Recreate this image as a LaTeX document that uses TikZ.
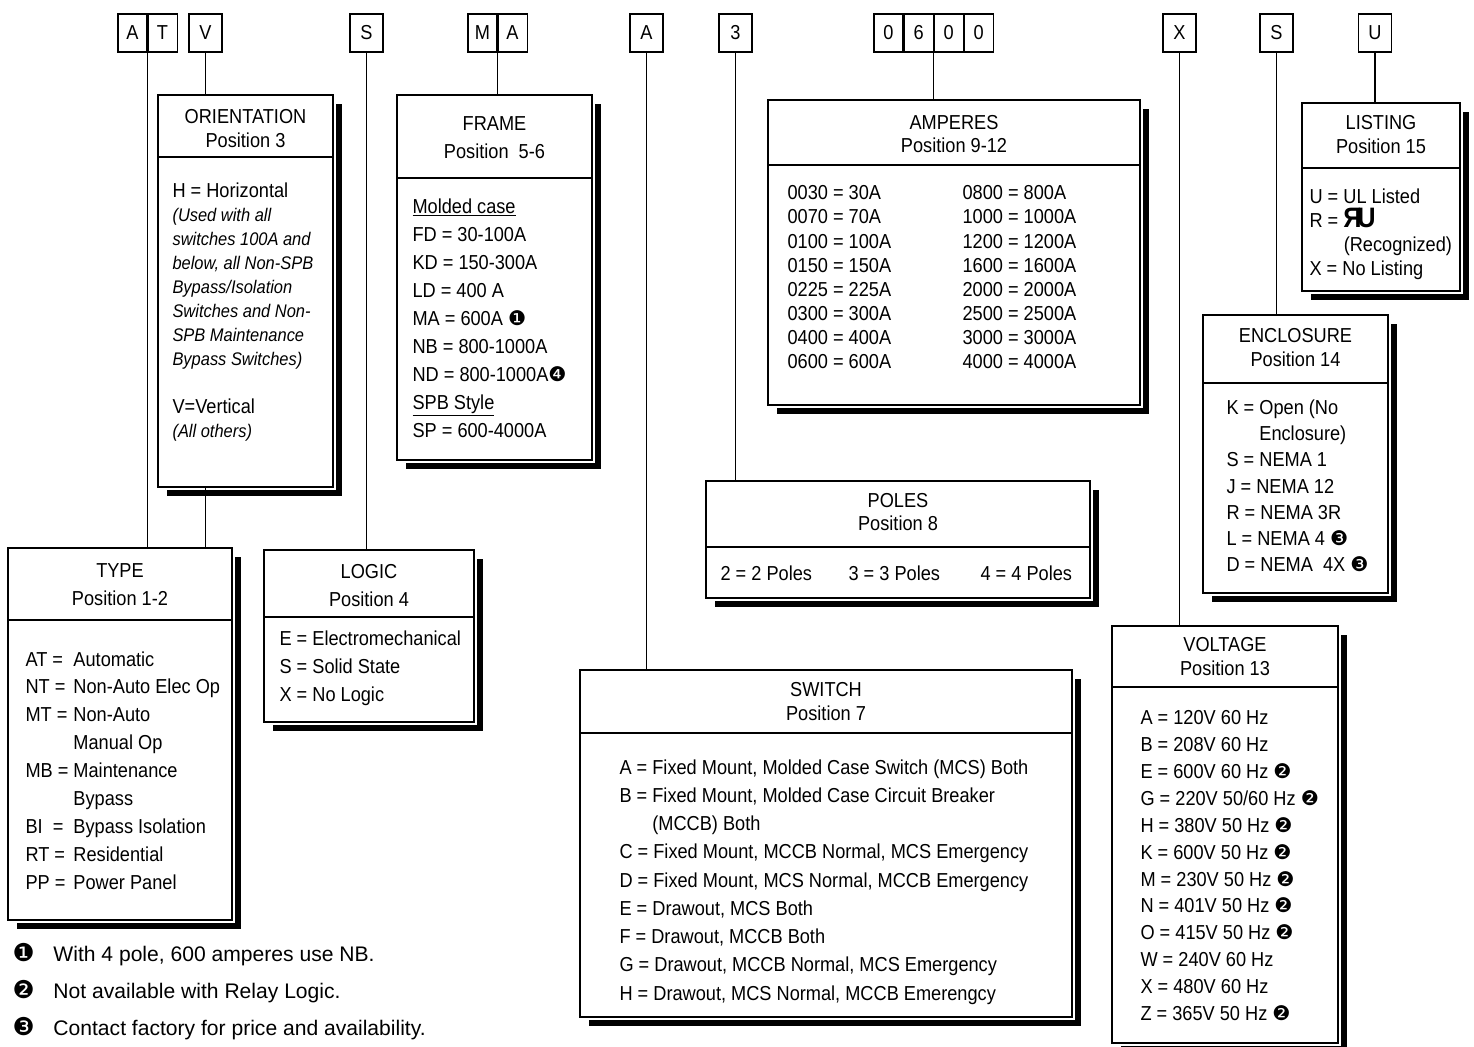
\documentclass[tikz,border=0pt]{standalone}
\usepackage{fontspec}
\setmainfont{Liberation Sans}[FakeStretch=0.9]
\newfontfamily\dingfont{DejaVu Sans}
\newfontfamily\notefont{Liberation Sans}
\usepackage{graphicx}
\usetikzlibrary{positioning,fit}

\newcommand{\dg}[1]{{\dingfont #1}}
\newcommand{\bigdg}[1]{{\dingfont\fontsize{14}{14}\selectfont #1}}
\newcommand{\remark}[1]{{\fontsize{10.4}{13.66}\selectfont\itshape #1}}
\newcommand{\ulmark}{\smash{\bfseries\fontsize{16}{16}\selectfont\reflectbox{R}\kern-2.5pt U}}

\begin{document}
\begin{tikzpicture}[
       x=0.02cm, y=-0.02cm,
       line width=0.6pt,
       codebox/.style={
         draw,
         inner sep=0pt,
         minimum width=0.66cm,
         minimum height=0.76cm,
         font=\fontsize{11.5}{13}\selectfont
       },
       digitbox/.style={codebox, minimum width=0.58cm},
       panelbox/.style={draw, inner sep=0pt},
       headtext/.style={align=center, inner sep=0pt, font=\fontsize{11.5}{#1}\selectfont},
       headtext/.default=13.66pt,
       bodytext/.style={anchor=north west, align=left, inner sep=0pt, font=\fontsize{11.5}{#1}\selectfont},
       bodytext/.default=13.66pt,
       notetext/.style={anchor=base west, inner sep=0pt, font=\notefont\fontsize{12}{14}\selectfont},
       ledge/.style={line width=3.4pt}
     ]

       \useasboundingbox (0,0) rectangle (1474,1047);

       % catalogue number
       \node (lA) at (132.5,33) [digitbox] {A};
       \node (lT) [digitbox, right=0pt of lA] {T};
       \node (lV) at (205.5,33) [codebox] {V};
       \node (lS) at (366.5,33) [codebox] {S};
       \node (lM) at (482.5,33) [digitbox] {M};
       \node (lMA) [digitbox, right=0pt of lM] {A};
       \node (lSw) at (646.5,33) [codebox] {A};
       \node (lP) at (735.5,33) [codebox] {3};
       \node (lA1) at (888.5,33) [digitbox] {0};
       \node (lA2) [digitbox, right=0pt of lA1] {6};
       \node (lA3) [digitbox, right=0pt of lA2] {0};
       \node (lA4) [digitbox, right=0pt of lA3] {0};
       \node (lX) at (1179.5,33) [codebox] {X};
       \node (lE) at (1276.5,33) [codebox] {S};
       \node (lU) at (1375,33) [codebox] {U};

       % option boxes
       \node (orient) [panelbox, fit={(158,95) (333,487)}] {};
       \node (frame) [panelbox, fit={(397,95) (592,460)}] {};
       \node (amp) [panelbox, fit={(768,100) (1140,405)}] {};
       \node (listing) [panelbox, fit={(1302,103) (1460,291)}] {};
       \node (encl) [panelbox, fit={(1203,315) (1388,593)}] {};
       \node (poles) [panelbox, fit={(706,481) (1090,598)}] {};
       \node (type) [panelbox, fit={(8,548) (232,920)}] {};
       \node (logic) [panelbox, fit={(264,550) (474,722)}] {};
       \node (switch) [panelbox, fit={(580,670) (1072,1017)}] {};
       \node (volt) [panelbox, fit={(1112,626) (1338,1043)}] {};

       \foreach \b/\d in {orient/157, frame/178, amp/165, listing/168, encl/383,
                          poles/547, type/620, logic/617, switch/733, volt/687}{
         \draw (\b.west |- 0,\d) -- (\b.east |- 0,\d);
         \draw[ledge] ([shift={(5,10)}]\b.north east) |- ([shift={(10,5)}]\b.south west);
       }

       \draw (lA.south east) -- (lA.south east |- type.north);
       \draw (lV.south) -- (lV.south |- orient.north);
       \draw (orient.south -| lV) -- (type.north -| lV);
       \draw (lS.south) -- (lS.south |- logic.north);
       \draw (lM.south east) -- (lM.south east |- frame.north);
       \draw (lSw.south) -- (lSw.south |- switch.north);
       \draw (lP.south) -- (lP.south |- poles.north);
       \draw (lA2.south east) -- (lA2.south east |- amp.north);
       \draw (lX.south) -- (lX.south |- volt.north);
       \draw (lE.south) -- (lE.south |- encl.north);
       \draw (lU.south) -- (lU.south |- listing.north);

       % headings
       \node (orientH) [headtext] at (orient.north |- 0,129) {ORIENTATION\\Position 3};
       \node (frameH) [headtext=15.93pt] at (frame.north |- 0,138) {FRAME\\Position\ \ 5-6};
       \node (ampH) [headtext=13.1pt] at (amp.north |- 0,134.5) {AMPERES\\Position 9-12};
       \node (listingH) [headtext] at (listing.north |- 0,135) {LISTING\\Position 15};
       \node (enclH) [headtext] at (encl.north |- 0,348) {ENCLOSURE\\Position 14};
       \node (polesH) [headtext=13.1pt] at (poles.north |- 0,512.5) {POLES\\Position 8};
       \node (typeH) [headtext=15.93pt] at (type.north |- 0,585) {TYPE\\Position 1-2};
       \node (logicH) [headtext=15.93pt] at (logic.north |- 0,586) {LOGIC\\Position 4};
       \node (switchH) [headtext] at (switch.north |- 0,702) {SWITCH\\Position 7};
       \node (voltH) [headtext] at (volt.north |- 0,657) {VOLTAGE\\Position 13};

       % entries
       \node (orientB) [bodytext=13.66pt] at (172,182) {H = Horizontal\\
         \remark{(Used with all}\\ \remark{switches 100A and}\\ \remark{below, all Non-SPB}\\
         \remark{Bypass/Isolation}\\ \remark{Switches and Non-}\\ \remark{SPB Maintenance}\\
         \remark{Bypass Switches)}\\[13.66pt] V=Vertical\\ \remark{(All others)}};
       \node (frameB) [bodytext=15.93pt] at (412,198) {\underline{Molded case}\\
         FD = 30-100A\\ KD = 150-300A\\ LD = 400 A\\ MA = 600A \dg{❶}\\
         NB = 800-1000A\\ ND = 800-1000A\dg{❹}\\ \underline{SPB Style}\\ SP = 600-4000A};
       \node (ampL) [bodytext=13.77pt] at (787,185) {0030 = 30A\\ 0070 = 70A\\ 0100 = 100A\\
         0150 = 150A\\ 0225 = 225A\\ 0300 = 300A\\ 0400 = 400A\\ 0600 = 600A};
       \node (ampR) [bodytext=13.77pt] at (962,185) {0800 = 800A\\ 1000 = 1000A\\ 1200 = 1200A\\
         1600 = 1600A\\ 2000 = 2000A\\ 2500 = 2500A\\ 3000 = 3000A\\ 4000 = 4000A};
       \node (listingB) [bodytext=13.66pt] at (1309,188) {U = UL Listed\\ R = \ulmark\\
         \hspace{19.5pt}(Recognized)\\ X = No Listing};
       \node (enclB) [bodytext=14.97pt] at (1226,399) {K = Open (No\\ \hphantom{K = }Enclosure)\\
         S = NEMA 1\\ J = NEMA 12\\ R = NEMA 3R\\ L = NEMA 4 \dg{❸}\\ D = NEMA~~4X \dg{❸}};
       \node (poles2) [bodytext] at (720,565) {2 = 2 Poles};
       \node (poles3) [bodytext] at (848,565) {3 = 3 Poles};
       \node (poles4) [bodytext] at (980,565) {4 = 4 Poles};
       \node (typeB) [bodytext=15.93pt, anchor=base west] at (25,666) {\begin{tabular}[t]{@{}p{27.3pt}@{}l@{}}
         AT = & Automatic\\ NT = & Non-Auto Elec Op\\ MT = & Non-Auto\\ & Manual Op\\
         MB = & Maintenance\\ & Bypass\\ BI\ \ = & Bypass Isolation\\ RT = & Residential\\
         PP = & Power Panel\end{tabular}};
       \node (logicB) [bodytext=15.93pt] at (279,630) {E = Electromechanical\\ S = Solid State\\ X = No Logic};
       \node (switchB) [bodytext=16.07pt] at (619,759) {A = Fixed Mount, Molded Case Switch (MCS) Both\\
         B = Fixed Mount, Molded Case Circuit Breaker\\ \hphantom{B = }(MCCB) Both\\
         C = Fixed Mount, MCCB Normal, MCS Emergency\\ D = Fixed Mount, MCS Normal, MCCB Emergency\\
         E = Drawout, MCS Both\\ F = Drawout, MCCB Both\\ G = Drawout, MCCB Normal, MCS Emergency\\
         H = Drawout, MCS Normal, MCCB Emerengcy};
       \node (voltB) [bodytext=15.31pt] at (1140,710) {A = 120V 60 Hz\\ B = 208V 60 Hz\\
         E = 600V 60 Hz \dg{❷}\\ G = 220V 50/60 Hz \dg{❷}\\ H = 380V 50 Hz \dg{❷}\\
         K = 600V 50 Hz \dg{❷}\\ M = 230V 50 Hz \dg{❷}\\ N = 401V 50 Hz \dg{❷}\\
         O = 415V 50 Hz \dg{❷}\\ W = 240V 60 Hz\\ X = 480V 60 Hz\\ Z = 365V 50 Hz \dg{❷}};

       % footnotes
       \node (note1) [notetext] at (12,961) {\makebox[23.3pt][l]{\bigdg{❶}}With 4 pole, 600 amperes use NB.};
       \node (note2) [notetext] at (12,998) {\makebox[23.3pt][l]{\bigdg{❷}}Not available with Relay Logic.};
       \node (note3) [notetext] at (12,1035) {\makebox[23.3pt][l]{\bigdg{❸}}Contact factory for price and availability.};

\end{tikzpicture}
\end{document}
